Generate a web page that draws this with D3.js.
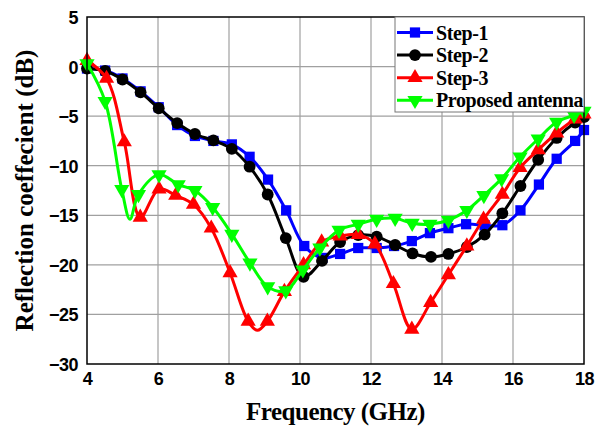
<!DOCTYPE html>
<html>
<head>
<meta charset="utf-8">
<script src="https://cdn.jsdelivr.net/npm/d3@7"></script>
<style>
  body { margin: 0; background: #fff; }
  .tick text { font-family: "Liberation Sans", Arial, sans-serif; font-weight: bold; font-size: 18px; fill: #000; letter-spacing: -0.5px; }
</style>
</head>
<body>
<div id="chart"></div>
<script>
// [frequency GHz, dB, marker? (0 = no marker)]
const step1 = [[4.0,-0.2],[4.51,-0.4],[5.0,-1.2],[5.51,-2.5],[6.02,-4.1],[6.54,-5.9],[7.04,-7.0],[7.56,-7.5],
  [8.08,-7.85],[8.58,-9.1],[9.1,-11.4],[9.61,-14.5],[10.12,-18.1],[10.63,-19.3],[11.13,-18.9],[11.64,-18.3],
  [12.16,-18.3],[12.65,-18.1],[13.15,-17.6],[13.66,-16.8],[14.18,-16.3],[14.68,-15.9],[15.2,-16.0],[15.7,-16.0],
  [16.21,-14.5],[16.73,-11.9],[17.23,-9.3],[17.75,-7.5],[18.0,-6.4]];
const step2 = [[4.0,-0.2],[4.51,-0.45],[5.0,-1.3],[5.51,-2.6],[6.02,-4.2],[6.54,-5.7],[7.04,-6.8],[7.56,-7.45],
  [8.08,-8.3],[8.58,-10.1],[9.09,-12.9],[9.6,-17.3],[10.1,-21.2],[10.62,-19.6],[11.13,-17.7],[11.64,-17.0],
  [12.16,-17.15],[12.68,-18.0],[13.17,-18.85],[13.69,-19.2],[14.18,-18.9],[14.7,-18.2],[15.2,-16.95],[15.7,-14.8],
  [16.21,-12.05],[16.71,-9.4],[17.23,-7.2],[17.75,-5.65],[18.0,-5.1]];
const step3 = [[4.0,0.6],[4.55,-1.2],[5.05,-7.6],[5.5,-15.2],[6.03,-12.35],[6.5,-13.0],[7.0,-13.9],[7.5,-16.3],
  [8.03,-20.8],[8.54,-25.7],[8.8,-26.6,0],[9.08,-25.7],[9.56,-22.7],[10.1,-20.0],[10.61,-17.7],[11.13,-17.1],
  [11.64,-16.95],[12.11,-17.9],[12.63,-21.9],[13.15,-26.5],[13.68,-23.8],[14.18,-21.0],[14.7,-18.1],[15.17,-15.4],
  [15.7,-12.9],[16.2,-10.2],[16.71,-8.4],[17.23,-6.7],[17.75,-5.3],[18.0,-4.8]];
const proposed = [[4.0,0.3],[4.51,-3.5],[4.98,-12.4],[5.21,-15.4,0],[5.45,-12.9],[6.03,-10.9],[6.57,-11.9],
  [7.04,-12.5],[7.54,-14.2],[8.08,-16.9],[8.59,-19.8],[9.09,-22.2],[9.6,-22.6],[10.08,-20.5],[10.56,-18.3],
  [11.1,-16.5],[11.64,-15.9],[12.16,-15.4],[12.68,-15.3],[13.16,-15.8],[13.66,-15.9],[14.18,-15.5],[14.7,-14.5],
  [15.18,-13.0],[15.68,-11.3],[16.2,-9.1],[16.71,-7.3],[17.23,-5.6],[17.72,-4.9],[18.0,-4.5]];

const seriesNames = ['Step-1', 'Step-2', 'Step-3', 'Proposed antenna'];
const seriesColors = ['#0000ff', '#000000', '#ff0000', '#00ff00'];
const seriesSymbols = ['square', 'circle', 'triUp', 'triDown'];
const xTicks = [4, 6, 8, 10, 12, 14, 16, 18];
const yTicks = [5, 0, -5, -10, -15, -20, -25, -30];

const width = 596, height = 431;
const margin = { top: 17, right: 12, bottom: 67, left: 87 };
const innerW = width - margin.left - margin.right;
const innerH = height - margin.top - margin.bottom;

const svg = d3.select('#chart').append('svg')
    .attr('width', width)
    .attr('height', height);
const g = svg.append('g').attr('transform', `translate(${margin.left},${margin.top})`);

const x = d3.scaleLinear().domain([4, 18]).range([0, innerW]);
const y = d3.scaleLinear().domain([-30, 5]).range([innerH, 0]);

// grid
g.append('g').selectAll('line').data(xTicks.slice(1, -1)).join('line')
    .attr('x1', d => x(d)).attr('x2', d => x(d)).attr('y1', 0).attr('y2', innerH)
    .attr('stroke', '#a0a0a0').attr('stroke-width', 1.2);
g.append('g').selectAll('line').data(yTicks.slice(1, -1)).join('line')
    .attr('y1', d => y(d)).attr('y2', d => y(d)).attr('x1', 0).attr('x2', innerW)
    .attr('stroke', '#a0a0a0').attr('stroke-width', 1.2);

// axes
const xAxis = g.append('g').attr('transform', `translate(0,${innerH})`)
    .call(d3.axisBottom(x).tickValues(xTicks).tickSize(0).tickPadding(8).tickFormat(d3.format('d')));
const yAxis = g.append('g')
    .call(d3.axisLeft(y).tickValues(yTicks).tickSize(0).tickPadding(9).tickFormat(d3.format('d')));
xAxis.select('.domain').remove();
yAxis.select('.domain').remove();
yAxis.selectAll('text').attr('dy', '0.36em');

// series
const line = d3.line().x(d => x(d[0])).y(d => y(d[1])).curve(d3.curveCatmullRom.alpha(0.5));
const symbolPath = {
  square: d3.symbol(d3.symbolSquare, 105)(),
  circle: d3.symbol(d3.symbolCircle, 110)(),
  triUp: d3.symbol(d3.symbolTriangle, 100)(),
  triDown: d3.symbol(d3.symbolTriangle, 100)()
};

const allSeries = [step1, step2, step3, proposed];
allSeries.forEach((data, i) => {
    const sg = g.append('g');
    sg.append('path').datum(data)
        .attr('d', line)
        .attr('fill', 'none')
        .attr('stroke', seriesColors[i])
        .attr('stroke-width', 3);
    sg.selectAll('path.m').data(data.filter(d => d[2] !== 0)).join('path')
        .attr('class', 'm')
        .attr('d', symbolPath[seriesSymbols[i]])
        .attr('transform', d => `translate(${x(d[0])},${y(d[1])})` + (seriesSymbols[i] === 'triDown' ? ' rotate(180)' : ''))
        .attr('fill', seriesColors[i]);
});

// frame
g.append('rect').attr('width', innerW).attr('height', innerH)
    .attr('fill', 'none').attr('stroke', '#000').attr('stroke-width', 1.5);

// legend
const legend = g.append('g').attr('transform', `translate(${innerW - 189},0)`);
legend.append('rect').attr('width', 189).attr('height', 95)
    .attr('fill', '#fff').attr('stroke', '#777').attr('stroke-width', 1);
seriesNames.forEach((name, i) => {
    const row = legend.append('g').attr('transform', `translate(0,${15.5 + i * 22.6})`);
    row.append('line').attr('x1', 2).attr('x2', 38).attr('stroke', seriesColors[i]).attr('stroke-width', 3);
    row.append('path').attr('d', symbolPath[seriesSymbols[i]])
        .attr('transform', 'translate(20,0)' + (seriesSymbols[i] === 'triDown' ? ' rotate(180)' : ''))
        .attr('fill', seriesColors[i]);
    row.append('text').attr('x', 41).attr('dy', '0.35em')
        .attr('font-family', '"Liberation Serif", "Times New Roman", serif')
        .attr('font-weight', 'bold').attr('font-size', 20)
        .attr('letter-spacing', -0.4).text(name);
});

// titles
svg.append('text')
    .attr('x', margin.left + innerW / 2).attr('y', 420)
    .attr('text-anchor', 'middle')
    .attr('font-family', '"Liberation Serif", "Times New Roman", serif')
    .attr('font-weight', 'bold').attr('font-size', 25)
    .attr('letter-spacing', -0.5)
    .text('Frequency (GHz)');
svg.append('text')
    .attr('transform', `translate(33,${margin.top + innerH / 2}) rotate(-90)`)
    .attr('text-anchor', 'middle')
    .attr('font-family', '"Liberation Serif", "Times New Roman", serif')
    .attr('font-weight', 'bold').attr('font-size', 25)
    .text('Reflection coeffecient (dB)');
</script>
</body>
</html>
